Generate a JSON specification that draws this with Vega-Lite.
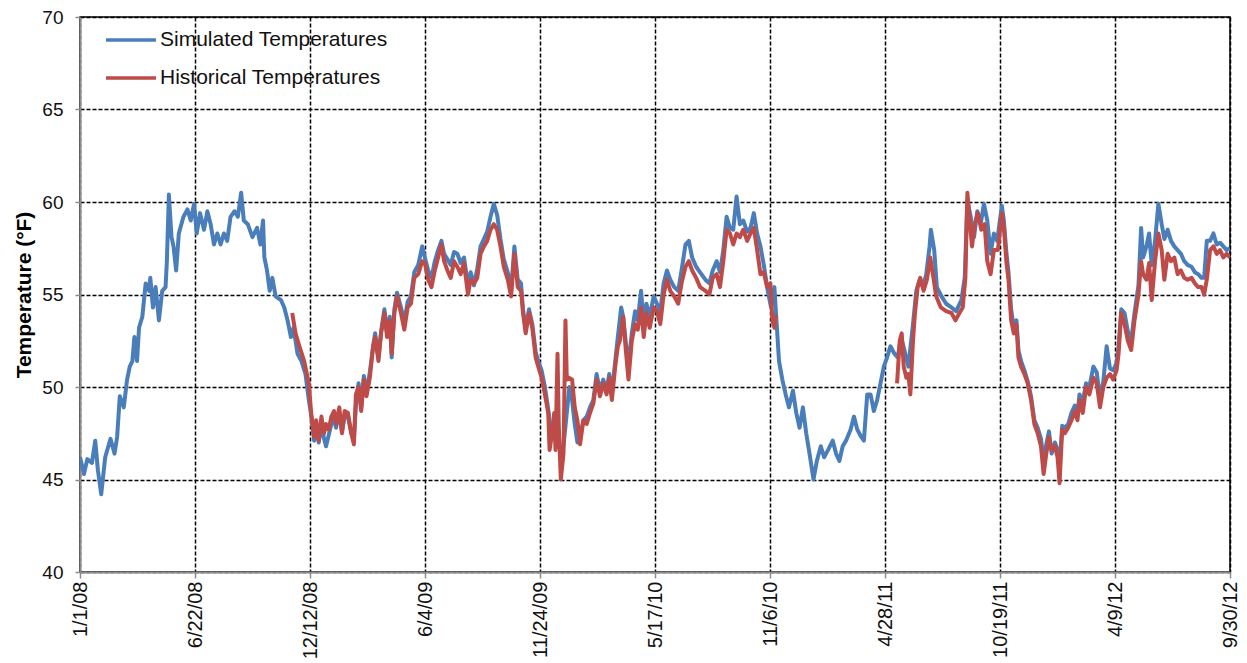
{
  "$schema": "https://vega.github.io/schema/vega-lite/v6.json",
  "width": 1150,
  "height": 555,
  "autosize": {"type": "none"},
  "padding": {"left": 80, "top": 17, "right": 17, "bottom": 91},
  "background": "white",
  "config": {
    "font": "Liberation Sans",
    "view": {"stroke": "#000000", "strokeWidth": 1.5}
  },
  "datasets": {
    "simulated": [
      {"day": 0, "temp": 46.2}, {"day": 6, "temp": 45.3}, {"day": 11, "temp": 46.1}, {"day": 18, "temp": 45.9},
      {"day": 23, "temp": 47.1}, {"day": 27, "temp": 45.5}, {"day": 32, "temp": 44.2}, {"day": 38, "temp": 46.2},
      {"day": 46, "temp": 47.2}, {"day": 52, "temp": 46.4}, {"day": 56, "temp": 47.3}, {"day": 60, "temp": 49.5},
      {"day": 66, "temp": 48.9}, {"day": 71, "temp": 50.4}, {"day": 75, "temp": 51.1}, {"day": 79, "temp": 51.4},
      {"day": 82, "temp": 52.7}, {"day": 86, "temp": 51.4}, {"day": 89, "temp": 53.2}, {"day": 94, "temp": 53.8},
      {"day": 99, "temp": 55.6}, {"day": 104, "temp": 55.2}, {"day": 106, "temp": 55.9}, {"day": 110, "temp": 54.3},
      {"day": 114, "temp": 55.4}, {"day": 119, "temp": 53.6}, {"day": 124, "temp": 55.2}, {"day": 129, "temp": 55.4},
      {"day": 131, "temp": 56.8}, {"day": 134, "temp": 60.4}, {"day": 138, "temp": 58.1}, {"day": 141, "temp": 57.6},
      {"day": 145, "temp": 56.3}, {"day": 149, "temp": 58.3}, {"day": 156, "temp": 59.2}, {"day": 162, "temp": 59.6},
      {"day": 167, "temp": 59.0}, {"day": 172, "temp": 59.9}, {"day": 176, "temp": 58.3}, {"day": 181, "temp": 59.4},
      {"day": 187, "temp": 58.5}, {"day": 192, "temp": 59.5}, {"day": 197, "temp": 58.8}, {"day": 202, "temp": 57.7},
      {"day": 207, "temp": 58.3}, {"day": 212, "temp": 57.7}, {"day": 217, "temp": 58.3}, {"day": 222, "temp": 57.9},
      {"day": 227, "temp": 59.2}, {"day": 233, "temp": 59.5}, {"day": 238, "temp": 59.2}, {"day": 243, "temp": 60.5},
      {"day": 247, "temp": 59.0}, {"day": 253, "temp": 58.8}, {"day": 260, "temp": 58.1}, {"day": 267, "temp": 58.6},
      {"day": 272, "temp": 57.7}, {"day": 276, "temp": 59.0}, {"day": 278, "temp": 57.0}, {"day": 282, "temp": 56.3},
      {"day": 286, "temp": 55.2}, {"day": 290, "temp": 55.9}, {"day": 295, "temp": 54.9}, {"day": 303, "temp": 54.7},
      {"day": 308, "temp": 54.3}, {"day": 313, "temp": 53.6}, {"day": 318, "temp": 52.7}, {"day": 322, "temp": 53.2},
      {"day": 328, "temp": 51.8}, {"day": 334, "temp": 51.4}, {"day": 340, "temp": 50.7}, {"day": 345, "temp": 49.3},
      {"day": 349, "temp": 48.4}, {"day": 353, "temp": 47.1}, {"day": 356, "temp": 47.9}, {"day": 360, "temp": 47.0},
      {"day": 364, "temp": 48.0}, {"day": 368, "temp": 47.2}, {"day": 371, "temp": 46.8}, {"day": 375, "temp": 47.4},
      {"day": 379, "temp": 48.0}, {"day": 383, "temp": 48.3}, {"day": 386, "temp": 47.8}, {"day": 391, "temp": 48.6},
      {"day": 395, "temp": 47.6}, {"day": 399, "temp": 48.4}, {"day": 404, "temp": 48.4}, {"day": 409, "temp": 47.5},
      {"day": 413, "temp": 47.2}, {"day": 416, "temp": 49.0}, {"day": 420, "temp": 50.2}, {"day": 424, "temp": 48.9},
      {"day": 428, "temp": 50.6}, {"day": 432, "temp": 49.7}, {"day": 437, "temp": 50.8}, {"day": 442, "temp": 52.2},
      {"day": 445, "temp": 52.9}, {"day": 450, "temp": 51.6}, {"day": 454, "temp": 53.0}, {"day": 459, "temp": 54.2},
      {"day": 463, "temp": 52.9}, {"day": 467, "temp": 53.8}, {"day": 470, "temp": 51.6}, {"day": 474, "temp": 54.2},
      {"day": 478, "temp": 55.1}, {"day": 484, "temp": 54.3}, {"day": 489, "temp": 53.5}, {"day": 494, "temp": 54.6},
      {"day": 499, "temp": 54.9}, {"day": 504, "temp": 56.2}, {"day": 510, "temp": 56.6}, {"day": 516, "temp": 57.6},
      {"day": 520, "temp": 57.0}, {"day": 525, "temp": 56.3}, {"day": 530, "temp": 55.9}, {"day": 535, "temp": 56.8},
      {"day": 540, "temp": 57.4}, {"day": 545, "temp": 57.9}, {"day": 549, "temp": 57.2}, {"day": 554, "temp": 56.9},
      {"day": 559, "temp": 56.6}, {"day": 564, "temp": 57.3}, {"day": 569, "temp": 57.2}, {"day": 574, "temp": 56.7},
      {"day": 579, "temp": 57.0}, {"day": 585, "temp": 55.5}, {"day": 589, "temp": 56.2}, {"day": 594, "temp": 55.5},
      {"day": 599, "temp": 56.4}, {"day": 604, "temp": 57.6}, {"day": 609, "temp": 58.0}, {"day": 614, "temp": 58.4},
      {"day": 619, "temp": 59.2}, {"day": 624, "temp": 59.9}, {"day": 629, "temp": 59.3}, {"day": 634, "temp": 58.0},
      {"day": 639, "temp": 56.9}, {"day": 645, "temp": 56.2}, {"day": 650, "temp": 55.2}, {"day": 655, "temp": 57.6},
      {"day": 660, "temp": 55.8}, {"day": 665, "temp": 55.6}, {"day": 668, "temp": 54.2}, {"day": 672, "temp": 53.1},
      {"day": 677, "temp": 54.2}, {"day": 682, "temp": 53.4}, {"day": 687, "temp": 51.9}, {"day": 691, "temp": 51.4},
      {"day": 696, "temp": 50.9}, {"day": 701, "temp": 50.0}, {"day": 706, "temp": 48.8}, {"day": 710, "temp": 47.6},
      {"day": 715, "temp": 48.2}, {"day": 720, "temp": 47.3}, {"day": 725, "temp": 46.4}, {"day": 729, "temp": 46.8},
      {"day": 734, "temp": 48.6}, {"day": 738, "temp": 50.0}, {"day": 742, "temp": 49.3}, {"day": 746, "temp": 48.0},
      {"day": 750, "temp": 47.0}, {"day": 754, "temp": 47.3}, {"day": 759, "temp": 48.2}, {"day": 764, "temp": 48.4},
      {"day": 769, "temp": 48.9}, {"day": 774, "temp": 49.3}, {"day": 779, "temp": 50.7}, {"day": 784, "temp": 49.8},
      {"day": 789, "temp": 50.4}, {"day": 794, "temp": 49.8}, {"day": 798, "temp": 50.7}, {"day": 802, "temp": 49.6},
      {"day": 807, "temp": 51.4}, {"day": 811, "temp": 52.7}, {"day": 816, "temp": 54.3}, {"day": 819, "temp": 53.8},
      {"day": 823, "temp": 52.4}, {"day": 827, "temp": 51.2}, {"day": 832, "temp": 52.9}, {"day": 837, "temp": 54.1},
      {"day": 841, "temp": 53.6}, {"day": 846, "temp": 55.2}, {"day": 850, "temp": 53.4}, {"day": 854, "temp": 54.5},
      {"day": 859, "temp": 53.8}, {"day": 865, "temp": 54.9}, {"day": 870, "temp": 54.5}, {"day": 875, "temp": 54.1},
      {"day": 880, "temp": 55.6}, {"day": 885, "temp": 56.3}, {"day": 890, "temp": 55.8}, {"day": 896, "temp": 55.4},
      {"day": 902, "temp": 55.2}, {"day": 907, "temp": 56.3}, {"day": 913, "temp": 57.7}, {"day": 918, "temp": 57.9},
      {"day": 923, "temp": 57.0}, {"day": 929, "temp": 56.5}, {"day": 935, "temp": 56.2}, {"day": 943, "temp": 55.8},
      {"day": 949, "temp": 55.6}, {"day": 954, "temp": 56.3}, {"day": 960, "temp": 56.8}, {"day": 965, "temp": 56.2},
      {"day": 970, "temp": 57.4}, {"day": 975, "temp": 59.2}, {"day": 980, "temp": 58.6}, {"day": 985, "temp": 58.5},
      {"day": 990, "temp": 60.3}, {"day": 995, "temp": 58.8}, {"day": 1000, "temp": 59.0}, {"day": 1006, "temp": 58.4},
      {"day": 1011, "temp": 58.6}, {"day": 1016, "temp": 59.4}, {"day": 1021, "temp": 58.3}, {"day": 1026, "temp": 57.6},
      {"day": 1031, "temp": 56.6}, {"day": 1037, "temp": 55.2}, {"day": 1042, "temp": 54.3}, {"day": 1047, "temp": 55.4},
      {"day": 1051, "temp": 53.1}, {"day": 1054, "temp": 51.4}, {"day": 1059, "temp": 50.4}, {"day": 1064, "temp": 49.6},
      {"day": 1069, "temp": 48.9}, {"day": 1075, "temp": 49.8}, {"day": 1080, "temp": 48.6}, {"day": 1085, "temp": 47.8},
      {"day": 1090, "temp": 48.9}, {"day": 1095, "temp": 47.5}, {"day": 1100, "temp": 46.4}, {"day": 1106, "temp": 45.0},
      {"day": 1111, "temp": 46.0}, {"day": 1117, "temp": 46.8}, {"day": 1122, "temp": 46.2}, {"day": 1128, "temp": 46.6},
      {"day": 1135, "temp": 47.1}, {"day": 1140, "temp": 46.4}, {"day": 1145, "temp": 46.0}, {"day": 1150, "temp": 46.8},
      {"day": 1155, "temp": 47.1}, {"day": 1162, "temp": 47.7}, {"day": 1167, "temp": 48.4}, {"day": 1172, "temp": 47.7},
      {"day": 1178, "temp": 47.3}, {"day": 1182, "temp": 47.1}, {"day": 1187, "temp": 49.6}, {"day": 1192, "temp": 49.6},
      {"day": 1197, "temp": 48.7}, {"day": 1202, "temp": 49.3}, {"day": 1207, "temp": 50.2}, {"day": 1212, "temp": 51.1},
      {"day": 1217, "temp": 51.6}, {"day": 1222, "temp": 52.2}, {"day": 1228, "temp": 51.8}, {"day": 1233, "temp": 51.6},
      {"day": 1238, "temp": 52.7}, {"day": 1243, "temp": 52.0}, {"day": 1249, "temp": 51.1}, {"day": 1256, "temp": 53.4},
      {"day": 1261, "temp": 55.2}, {"day": 1266, "temp": 55.8}, {"day": 1271, "temp": 55.4}, {"day": 1276, "temp": 56.1},
      {"day": 1281, "temp": 57.6}, {"day": 1283, "temp": 58.5}, {"day": 1288, "temp": 57.4}, {"day": 1292, "temp": 55.4},
      {"day": 1299, "temp": 54.9}, {"day": 1306, "temp": 54.5}, {"day": 1314, "temp": 54.3}, {"day": 1321, "temp": 54.1},
      {"day": 1329, "temp": 54.7}, {"day": 1334, "temp": 55.9}, {"day": 1338, "temp": 60.1}, {"day": 1343, "temp": 59.2},
      {"day": 1348, "temp": 58.1}, {"day": 1353, "temp": 59.5}, {"day": 1358, "temp": 58.8}, {"day": 1363, "temp": 59.9},
      {"day": 1368, "temp": 59.0}, {"day": 1373, "temp": 57.2}, {"day": 1378, "temp": 58.3}, {"day": 1383, "temp": 57.9},
      {"day": 1390, "temp": 59.8}, {"day": 1393, "temp": 59.0}, {"day": 1397, "temp": 57.2}, {"day": 1400, "temp": 56.2},
      {"day": 1404, "temp": 54.2}, {"day": 1408, "temp": 53.2}, {"day": 1412, "temp": 53.6}, {"day": 1415, "temp": 52.0},
      {"day": 1419, "temp": 51.4}, {"day": 1424, "temp": 50.9}, {"day": 1429, "temp": 50.3}, {"day": 1434, "temp": 49.5},
      {"day": 1439, "temp": 48.2}, {"day": 1444, "temp": 47.8}, {"day": 1449, "temp": 47.2}, {"day": 1453, "temp": 46.0},
      {"day": 1457, "temp": 46.9}, {"day": 1461, "temp": 47.6}, {"day": 1465, "temp": 46.4}, {"day": 1470, "temp": 47.0},
      {"day": 1474, "temp": 46.6}, {"day": 1477, "temp": 45.8}, {"day": 1481, "temp": 47.9}, {"day": 1485, "temp": 47.8},
      {"day": 1490, "temp": 48.0}, {"day": 1495, "temp": 48.6}, {"day": 1500, "temp": 49.0}, {"day": 1504, "temp": 48.5},
      {"day": 1507, "temp": 49.6}, {"day": 1512, "temp": 49.2}, {"day": 1517, "temp": 50.2}, {"day": 1522, "temp": 50.0},
      {"day": 1528, "temp": 51.1}, {"day": 1533, "temp": 50.8}, {"day": 1538, "temp": 49.4}, {"day": 1543, "temp": 50.3},
      {"day": 1548, "temp": 52.2}, {"day": 1553, "temp": 51.0}, {"day": 1558, "temp": 50.9}, {"day": 1563, "temp": 51.3},
      {"day": 1566, "temp": 52.2}, {"day": 1570, "temp": 54.2}, {"day": 1575, "temp": 54.0}, {"day": 1580, "temp": 53.0},
      {"day": 1585, "temp": 52.5}, {"day": 1590, "temp": 54.0}, {"day": 1596, "temp": 55.5}, {"day": 1600, "temp": 58.6},
      {"day": 1603, "temp": 57.0}, {"day": 1608, "temp": 57.6}, {"day": 1612, "temp": 58.3}, {"day": 1616, "temp": 56.6},
      {"day": 1621, "temp": 57.9}, {"day": 1626, "temp": 59.9}, {"day": 1631, "temp": 58.8}, {"day": 1635, "temp": 58.0},
      {"day": 1640, "temp": 58.5}, {"day": 1645, "temp": 57.9}, {"day": 1650, "temp": 57.6}, {"day": 1655, "temp": 57.4},
      {"day": 1660, "temp": 57.2}, {"day": 1665, "temp": 56.8}, {"day": 1670, "temp": 56.6}, {"day": 1676, "temp": 56.5},
      {"day": 1681, "temp": 56.2}, {"day": 1686, "temp": 56.1}, {"day": 1691, "temp": 55.9}, {"day": 1695, "temp": 55.9},
      {"day": 1699, "temp": 57.9}, {"day": 1704, "temp": 57.9}, {"day": 1709, "temp": 58.3}, {"day": 1714, "temp": 57.7},
      {"day": 1719, "temp": 57.8}, {"day": 1724, "temp": 57.6}, {"day": 1729, "temp": 57.4}, {"day": 1734, "temp": 57.5}
    ],
    "historical": [
      {"segment": 1, "day": 320, "temp": 54.0}, {"segment": 1, "day": 325, "temp": 52.9}, {"segment": 1, "day": 330, "temp": 52.3},
      {"segment": 1, "day": 338, "temp": 51.4}, {"segment": 1, "day": 345, "temp": 50.2}, {"segment": 1, "day": 349, "temp": 48.4},
      {"segment": 1, "day": 353, "temp": 47.3}, {"segment": 1, "day": 356, "temp": 48.2}, {"segment": 1, "day": 360, "temp": 47.1},
      {"segment": 1, "day": 364, "temp": 48.4}, {"segment": 1, "day": 368, "temp": 47.5}, {"segment": 1, "day": 371, "temp": 48.0},
      {"segment": 1, "day": 375, "temp": 47.7}, {"segment": 1, "day": 379, "temp": 48.4}, {"segment": 1, "day": 383, "temp": 48.7},
      {"segment": 1, "day": 386, "temp": 48.0}, {"segment": 1, "day": 391, "temp": 48.9}, {"segment": 1, "day": 395, "temp": 47.5},
      {"segment": 1, "day": 399, "temp": 48.7}, {"segment": 1, "day": 404, "temp": 48.6}, {"segment": 1, "day": 409, "temp": 47.5},
      {"segment": 1, "day": 413, "temp": 46.9}, {"segment": 1, "day": 416, "temp": 49.6}, {"segment": 1, "day": 420, "temp": 50.0},
      {"segment": 1, "day": 424, "temp": 48.7}, {"segment": 1, "day": 428, "temp": 50.4}, {"segment": 1, "day": 432, "temp": 49.5},
      {"segment": 1, "day": 437, "temp": 50.5}, {"segment": 1, "day": 442, "temp": 52.2}, {"segment": 1, "day": 445, "temp": 52.7},
      {"segment": 1, "day": 450, "temp": 51.4}, {"segment": 1, "day": 454, "temp": 52.9}, {"segment": 1, "day": 459, "temp": 54.0},
      {"segment": 1, "day": 463, "temp": 52.7}, {"segment": 1, "day": 467, "temp": 53.6}, {"segment": 1, "day": 470, "temp": 51.8},
      {"segment": 1, "day": 474, "temp": 54.0}, {"segment": 1, "day": 478, "temp": 54.9}, {"segment": 1, "day": 484, "temp": 54.0},
      {"segment": 1, "day": 489, "temp": 53.1}, {"segment": 1, "day": 494, "temp": 54.3}, {"segment": 1, "day": 499, "temp": 54.5},
      {"segment": 1, "day": 504, "temp": 55.9}, {"segment": 1, "day": 510, "temp": 56.1}, {"segment": 1, "day": 516, "temp": 56.8},
      {"segment": 1, "day": 520, "temp": 56.7}, {"segment": 1, "day": 525, "temp": 55.8}, {"segment": 1, "day": 530, "temp": 55.4},
      {"segment": 1, "day": 535, "temp": 56.3}, {"segment": 1, "day": 540, "temp": 57.0}, {"segment": 1, "day": 545, "temp": 57.7},
      {"segment": 1, "day": 549, "temp": 56.8}, {"segment": 1, "day": 554, "temp": 56.3}, {"segment": 1, "day": 559, "temp": 55.9},
      {"segment": 1, "day": 564, "temp": 56.8}, {"segment": 1, "day": 569, "temp": 56.5}, {"segment": 1, "day": 574, "temp": 56.1},
      {"segment": 1, "day": 579, "temp": 56.7}, {"segment": 1, "day": 585, "temp": 55.0}, {"segment": 1, "day": 589, "temp": 55.8},
      {"segment": 1, "day": 594, "temp": 55.6}, {"segment": 1, "day": 599, "temp": 55.9}, {"segment": 1, "day": 604, "temp": 57.2},
      {"segment": 1, "day": 609, "temp": 57.6}, {"segment": 1, "day": 614, "temp": 57.9}, {"segment": 1, "day": 619, "temp": 58.5},
      {"segment": 1, "day": 624, "temp": 58.8}, {"segment": 1, "day": 629, "temp": 58.5}, {"segment": 1, "day": 634, "temp": 57.6},
      {"segment": 1, "day": 639, "temp": 56.5}, {"segment": 1, "day": 645, "temp": 55.8}, {"segment": 1, "day": 650, "temp": 54.9},
      {"segment": 1, "day": 655, "temp": 57.2}, {"segment": 1, "day": 660, "temp": 55.4}, {"segment": 1, "day": 665, "temp": 55.2},
      {"segment": 1, "day": 668, "temp": 54.0}, {"segment": 1, "day": 672, "temp": 52.9}, {"segment": 1, "day": 677, "temp": 54.0},
      {"segment": 1, "day": 682, "temp": 53.2}, {"segment": 1, "day": 687, "temp": 51.6}, {"segment": 1, "day": 691, "temp": 51.1},
      {"segment": 1, "day": 696, "temp": 50.5}, {"segment": 1, "day": 701, "temp": 49.6}, {"segment": 1, "day": 706, "temp": 48.6},
      {"segment": 1, "day": 708, "temp": 46.6}, {"segment": 1, "day": 712, "temp": 47.5}, {"segment": 1, "day": 715, "temp": 48.6},
      {"segment": 1, "day": 717, "temp": 46.6}, {"segment": 1, "day": 720, "temp": 51.8}, {"segment": 1, "day": 722, "temp": 47.8},
      {"segment": 1, "day": 725, "temp": 45.0}, {"segment": 1, "day": 729, "temp": 46.4}, {"segment": 1, "day": 732, "temp": 53.6},
      {"segment": 1, "day": 734, "temp": 50.4}, {"segment": 1, "day": 737, "temp": 50.5}, {"segment": 1, "day": 742, "temp": 50.4},
      {"segment": 1, "day": 746, "temp": 48.9}, {"segment": 1, "day": 750, "temp": 48.2}, {"segment": 1, "day": 754, "temp": 46.9},
      {"segment": 1, "day": 759, "temp": 48.2}, {"segment": 1, "day": 764, "temp": 48.0}, {"segment": 1, "day": 769, "temp": 48.6},
      {"segment": 1, "day": 774, "temp": 49.1}, {"segment": 1, "day": 779, "temp": 50.4}, {"segment": 1, "day": 784, "temp": 49.5},
      {"segment": 1, "day": 789, "temp": 50.2}, {"segment": 1, "day": 794, "temp": 49.6}, {"segment": 1, "day": 798, "temp": 50.5},
      {"segment": 1, "day": 802, "temp": 49.3}, {"segment": 1, "day": 807, "temp": 51.1}, {"segment": 1, "day": 811, "temp": 52.2},
      {"segment": 1, "day": 814, "temp": 52.5}, {"segment": 1, "day": 819, "temp": 53.8}, {"segment": 1, "day": 823, "temp": 52.0},
      {"segment": 1, "day": 827, "temp": 50.4}, {"segment": 1, "day": 832, "temp": 52.5}, {"segment": 1, "day": 837, "temp": 53.4},
      {"segment": 1, "day": 841, "temp": 53.1}, {"segment": 1, "day": 846, "temp": 54.3}, {"segment": 1, "day": 850, "temp": 52.7},
      {"segment": 1, "day": 854, "temp": 54.0}, {"segment": 1, "day": 859, "temp": 53.2}, {"segment": 1, "day": 865, "temp": 54.3},
      {"segment": 1, "day": 870, "temp": 54.1}, {"segment": 1, "day": 875, "temp": 53.4}, {"segment": 1, "day": 880, "temp": 55.0},
      {"segment": 1, "day": 885, "temp": 55.8}, {"segment": 1, "day": 890, "temp": 55.2}, {"segment": 1, "day": 896, "temp": 54.9},
      {"segment": 1, "day": 902, "temp": 54.5}, {"segment": 1, "day": 907, "temp": 55.6}, {"segment": 1, "day": 913, "temp": 56.5},
      {"segment": 1, "day": 918, "temp": 56.8}, {"segment": 1, "day": 923, "temp": 56.3}, {"segment": 1, "day": 929, "temp": 55.9},
      {"segment": 1, "day": 935, "temp": 55.4}, {"segment": 1, "day": 943, "temp": 55.2}, {"segment": 1, "day": 949, "temp": 55.0},
      {"segment": 1, "day": 954, "temp": 55.9}, {"segment": 1, "day": 960, "temp": 56.1}, {"segment": 1, "day": 965, "temp": 55.4},
      {"segment": 1, "day": 970, "temp": 56.8}, {"segment": 1, "day": 975, "temp": 58.5}, {"segment": 1, "day": 980, "temp": 58.3},
      {"segment": 1, "day": 985, "temp": 57.7}, {"segment": 1, "day": 990, "temp": 58.3}, {"segment": 1, "day": 995, "temp": 58.1},
      {"segment": 1, "day": 1000, "temp": 58.5}, {"segment": 1, "day": 1006, "temp": 57.9}, {"segment": 1, "day": 1011, "temp": 58.3},
      {"segment": 1, "day": 1016, "temp": 58.6}, {"segment": 1, "day": 1021, "temp": 57.4}, {"segment": 1, "day": 1026, "temp": 56.1},
      {"segment": 1, "day": 1031, "temp": 56.2}, {"segment": 1, "day": 1036, "temp": 55.4}, {"segment": 1, "day": 1041, "temp": 55.6},
      {"segment": 1, "day": 1044, "temp": 53.6}, {"segment": 1, "day": 1047, "temp": 53.2}, {"segment": 1, "day": 1049, "temp": 53.9},
      {"segment": 2, "day": 1232, "temp": 50.2}, {"segment": 2, "day": 1236, "temp": 52.5}, {"segment": 2, "day": 1239, "temp": 52.9},
      {"segment": 2, "day": 1242, "temp": 51.1}, {"segment": 2, "day": 1246, "temp": 50.5}, {"segment": 2, "day": 1249, "temp": 50.7},
      {"segment": 2, "day": 1252, "temp": 49.6}, {"segment": 2, "day": 1256, "temp": 52.5}, {"segment": 2, "day": 1259, "temp": 54.0},
      {"segment": 2, "day": 1263, "temp": 55.4}, {"segment": 2, "day": 1267, "temp": 55.9}, {"segment": 2, "day": 1272, "temp": 55.2},
      {"segment": 2, "day": 1277, "temp": 55.8}, {"segment": 2, "day": 1282, "temp": 57.0}, {"segment": 2, "day": 1286, "temp": 56.1},
      {"segment": 2, "day": 1291, "temp": 54.9}, {"segment": 2, "day": 1298, "temp": 54.3}, {"segment": 2, "day": 1306, "temp": 54.1},
      {"segment": 2, "day": 1314, "temp": 54.0}, {"segment": 2, "day": 1320, "temp": 53.6}, {"segment": 2, "day": 1326, "temp": 54.0},
      {"segment": 2, "day": 1331, "temp": 54.3}, {"segment": 2, "day": 1335, "temp": 55.9}, {"segment": 2, "day": 1338, "temp": 60.5},
      {"segment": 2, "day": 1341, "temp": 59.2}, {"segment": 2, "day": 1345, "temp": 57.6}, {"segment": 2, "day": 1349, "temp": 58.8},
      {"segment": 2, "day": 1354, "temp": 59.4}, {"segment": 2, "day": 1359, "temp": 58.5}, {"segment": 2, "day": 1364, "temp": 58.8},
      {"segment": 2, "day": 1368, "temp": 56.8}, {"segment": 2, "day": 1373, "temp": 56.1}, {"segment": 2, "day": 1378, "temp": 57.4},
      {"segment": 2, "day": 1384, "temp": 57.4}, {"segment": 2, "day": 1390, "temp": 59.4}, {"segment": 2, "day": 1393, "temp": 58.6},
      {"segment": 2, "day": 1397, "temp": 56.7}, {"segment": 2, "day": 1400, "temp": 55.8}, {"segment": 2, "day": 1404, "temp": 53.6},
      {"segment": 2, "day": 1408, "temp": 52.9}, {"segment": 2, "day": 1412, "temp": 53.4}, {"segment": 2, "day": 1415, "temp": 51.6},
      {"segment": 2, "day": 1419, "temp": 51.1}, {"segment": 2, "day": 1424, "temp": 50.7}, {"segment": 2, "day": 1429, "temp": 50.2},
      {"segment": 2, "day": 1434, "temp": 49.3}, {"segment": 2, "day": 1439, "temp": 48.0}, {"segment": 2, "day": 1444, "temp": 47.5},
      {"segment": 2, "day": 1449, "temp": 46.8}, {"segment": 2, "day": 1453, "temp": 45.3}, {"segment": 2, "day": 1457, "temp": 46.4},
      {"segment": 2, "day": 1461, "temp": 47.3}, {"segment": 2, "day": 1465, "temp": 46.6}, {"segment": 2, "day": 1470, "temp": 46.8},
      {"segment": 2, "day": 1474, "temp": 46.2}, {"segment": 2, "day": 1477, "temp": 44.8}, {"segment": 2, "day": 1481, "temp": 47.7},
      {"segment": 2, "day": 1485, "temp": 47.5}, {"segment": 2, "day": 1490, "temp": 47.8}, {"segment": 2, "day": 1495, "temp": 48.2},
      {"segment": 2, "day": 1500, "temp": 48.7}, {"segment": 2, "day": 1504, "temp": 48.2}, {"segment": 2, "day": 1507, "temp": 49.3},
      {"segment": 2, "day": 1512, "temp": 48.6}, {"segment": 2, "day": 1517, "temp": 50.0}, {"segment": 2, "day": 1522, "temp": 49.6},
      {"segment": 2, "day": 1528, "temp": 50.5}, {"segment": 2, "day": 1533, "temp": 50.2}, {"segment": 2, "day": 1538, "temp": 48.9},
      {"segment": 2, "day": 1543, "temp": 50.0}, {"segment": 2, "day": 1548, "temp": 50.5}, {"segment": 2, "day": 1553, "temp": 50.7},
      {"segment": 2, "day": 1558, "temp": 50.4}, {"segment": 2, "day": 1563, "temp": 50.9}, {"segment": 2, "day": 1566, "temp": 51.8},
      {"segment": 2, "day": 1570, "temp": 54.0}, {"segment": 2, "day": 1575, "temp": 53.4}, {"segment": 2, "day": 1580, "temp": 52.5},
      {"segment": 2, "day": 1585, "temp": 52.0}, {"segment": 2, "day": 1590, "temp": 53.6}, {"segment": 2, "day": 1596, "temp": 55.0},
      {"segment": 2, "day": 1600, "temp": 56.8}, {"segment": 2, "day": 1603, "temp": 56.1}, {"segment": 2, "day": 1608, "temp": 55.8},
      {"segment": 2, "day": 1612, "temp": 56.7}, {"segment": 2, "day": 1616, "temp": 54.7}, {"segment": 2, "day": 1621, "temp": 56.8},
      {"segment": 2, "day": 1626, "temp": 58.3}, {"segment": 2, "day": 1631, "temp": 57.4}, {"segment": 2, "day": 1635, "temp": 55.8},
      {"segment": 2, "day": 1640, "temp": 57.2}, {"segment": 2, "day": 1645, "temp": 56.8}, {"segment": 2, "day": 1650, "temp": 57.0},
      {"segment": 2, "day": 1655, "temp": 56.1}, {"segment": 2, "day": 1660, "temp": 56.3}, {"segment": 2, "day": 1665, "temp": 55.9},
      {"segment": 2, "day": 1670, "temp": 55.8}, {"segment": 2, "day": 1676, "temp": 55.9}, {"segment": 2, "day": 1681, "temp": 55.6},
      {"segment": 2, "day": 1686, "temp": 55.4}, {"segment": 2, "day": 1691, "temp": 55.4}, {"segment": 2, "day": 1695, "temp": 55.0},
      {"segment": 2, "day": 1699, "temp": 55.8}, {"segment": 2, "day": 1704, "temp": 57.4}, {"segment": 2, "day": 1709, "temp": 57.6},
      {"segment": 2, "day": 1714, "temp": 57.2}, {"segment": 2, "day": 1719, "temp": 57.4}, {"segment": 2, "day": 1724, "temp": 57.0},
      {"segment": 2, "day": 1729, "temp": 57.2}, {"segment": 2, "day": 1734, "temp": 57.0}
    ]
  },
  "layer": [
    {
      "data": {"name": "simulated"},
      "mark": {"type": "line", "strokeWidth": 4, "strokeJoin": "round", "clip": true},
      "encoding": {
        "x": {
          "field": "day",
          "type": "quantitative",
          "scale": {"domain": [0, 1734], "nice": false, "zero": false},
          "axis": {
            "title": null,
            "values": [0, 173.4, 346.8, 520.2, 693.6, 867, 1040.4, 1213.8, 1387.2, 1560.6, 1734],
            "labelExpr": "timeFormat(datetime(2008, 0, 1 + floor(datum.value)), '%-m/%-d/%y')",
            "labelAngle": 270,
            "labelAlign": "right",
            "labelBaseline": "middle",
            "labelOverlap": false,
            "labelFlush": false,
            "labelBound": false,
            "labelFont": "Liberation Sans",
            "labelFontSize": 20,
            "labelColor": "#111111",
            "labelPadding": 3,
            "tickSize": 6,
            "tickColor": "#8c8c8c",
            "tickWidth": 1.5,
            "domainColor": "#8c8c8c",
            "domainWidth": 2,
            "grid": true,
            "gridColor": "#000000",
            "gridDash": [4, 2],
            "gridWidth": 1.5
          }
        },
        "y": {
          "field": "temp",
          "type": "quantitative",
          "scale": {"domain": [40, 70], "nice": false, "zero": false},
          "axis": {
            "title": "Temperature (°F)",
            "titleFont": "Liberation Sans",
            "titleFontSize": 21,
            "titleFontWeight": "bold",
            "titleColor": "#000000",
            "titlePadding": 7,
            "values": [40, 45, 50, 55, 60, 65, 70],
            "labelFont": "Liberation Sans",
            "labelFontSize": 19,
            "labelColor": "#111111",
            "labelPadding": 12,
            "tickSize": 5,
            "tickColor": "#8c8c8c",
            "tickWidth": 1.5,
            "domainColor": "#8c8c8c",
            "domainWidth": 2,
            "grid": true,
            "gridColor": "#000000",
            "gridDash": [4, 2],
            "gridWidth": 1.5
          }
        },
        "color": {
          "datum": "Simulated Temperatures",
          "type": "nominal",
          "scale": {
            "domain": ["Simulated Temperatures", "Historical Temperatures"],
            "range": ["#4a7ebb", "#be4b48"]
          },
          "legend": {
            "title": null,
            "orient": "none",
            "legendX": 24,
            "legendY": -4,
            "symbolType": "stroke",
            "symbolSize": 2500,
            "symbolStrokeWidth": 3.5,
            "labelFont": "Liberation Sans",
            "labelFontSize": 21,
            "labelColor": "#111111",
            "labelLimit": 0,
            "labelOffset": 2,
            "rowPadding": 1
          }
        }
      }
    },
    {
      "data": {"name": "historical"},
      "mark": {"type": "line", "strokeWidth": 4, "strokeJoin": "round", "clip": true},
      "encoding": {
        "x": {"field": "day", "type": "quantitative"},
        "y": {"field": "temp", "type": "quantitative"},
        "detail": {"field": "segment", "type": "nominal"},
        "color": {"datum": "Historical Temperatures", "type": "nominal"}
      }
    }
  ]
}
